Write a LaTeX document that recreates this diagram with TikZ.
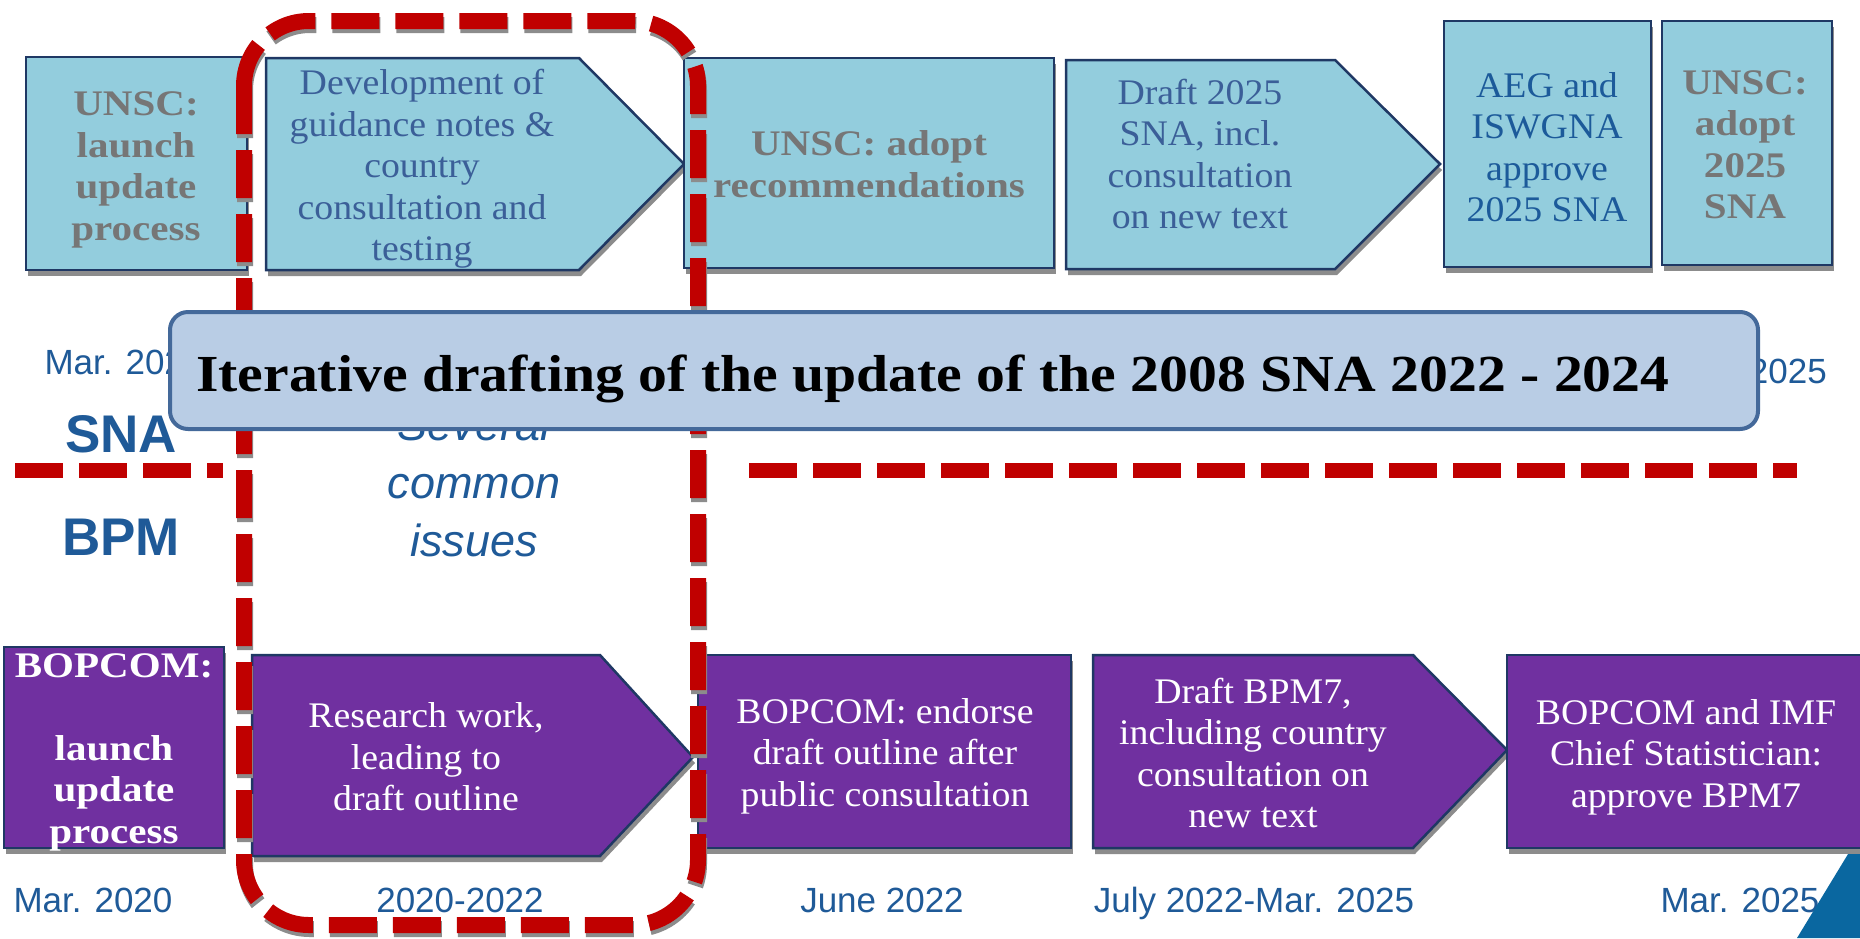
\documentclass[tikz,border=0pt]{standalone}
\usepackage{fontspec}
\setmainfont{Liberation Serif}
\newfontfamily\arialf{Liberation Sans}
\newfontfamily\serifreg{Liberation Serif}[FakeStretch=1.05]
\newfontfamily\serifbold{Liberation Serif}[FakeStretch=1.14]
\newfontfamily\titlef{Liberation Serif}[FakeStretch=1.11]
\usetikzlibrary{shadows}
\definecolor{boxblue}{HTML}{93CDDD}
\definecolor{navy}{HTML}{1F3864}
\definecolor{purp}{HTML}{7030A0}
\definecolor{grayt}{HTML}{767676}
\definecolor{steelt}{HTML}{3B5F98}
\definecolor{bluet}{HTML}{1C5A9A}
\definecolor{labelblue}{HTML}{1F5A98}
\definecolor{dred}{HTML}{C00000}
\definecolor{bannerfill}{HTML}{B9CDE5}
\definecolor{bannerline}{HTML}{44699A}
\definecolor{tealc}{HTML}{0A67A0}
\tikzset{
  shad/.style={drop shadow={shadow xshift=2pt, shadow yshift=-6pt, fill=black!45, opacity=1}},
  sbox/.style={draw=navy, line width=2.5pt, fill=boxblue, shad},
  pbox/.style={draw=navy, line width=2.5pt, fill=purp, shad},
  txtreg/.style={align=center, inner sep=0pt, text=steelt, font=\serifreg\fontsize{36}{41.5}\selectfont},
  txtbold/.style={align=center, inner sep=0pt, text=grayt, font=\serifbold\bfseries\fontsize{36}{41.5}\selectfont},
  datel/.style={anchor=base, inner sep=0pt, text=labelblue, font=\arialf\fontsize{35}{42}\selectfont},
  biglab/.style={anchor=base, inner sep=0pt, text=labelblue, font=\arialf\bfseries\fontsize{53}{60}\selectfont},
  redrect/.style={line width=16pt, dash pattern=on 48pt off 16pt, rounded corners=65pt},
  redline/.style={dred, line width=15pt, dash pattern=on 48pt off 16pt}
}
\begin{document}
\begin{tikzpicture}[x=1pt,y=-1pt]
\useasboundingbox (0,0) rectangle (1860,938);
\clip (0,0) rectangle (1860,938);
\fill[white] (0,0) rectangle (1860,938);

% labels
\node[datel] (d1) at (124,374) {Mar. 2020};
\node[datel, anchor=base east] (d2) at (1827,383) {Mar. 2025};
\node[datel] (d3) at (93,912) {Mar. 2020};
\node[datel] (d4) at (460,912) {2020-2022};
\node[datel] (d5) at (882,912) {June 2022};
\node[datel] (d6) at (1254,912) {July 2022-Mar. 2025};
\node[datel] (d7) at (1740,912) {Mar. 2025};
\node[biglab] (sna) at (121,452) {SNA};
\node[biglab] (bpm) at (121,555) {BPM};
\node[align=center, inner sep=0pt, text=labelblue, font=\arialf\itshape\fontsize{45}{58}\selectfont] (common) at (474,482) {Several\\common\\issues};

% top row (SNA)
\path[sbox] (26,57) rectangle (247,270);
\path[sbox] (266,58) -- (579,58) -- (684,164) -- (579,270) -- (266,270) -- cycle;
\path[sbox] (684,58) rectangle (1054,268);
\path[sbox] (1066,60) -- (1335,60) -- (1440,164) -- (1335,269) -- (1066,269) -- cycle;
\path[sbox] (1444,21) rectangle (1651,267);
\path[sbox] (1662,21) rectangle (1832,265);

\node[txtbold] (t1) at (136,170) {UNSC:\\launch\\update\\process};
\node[txtreg] (t2) at (422,169) {Development of\\guidance notes \&\\country\\consultation and\\testing};
\node[txtbold] (t3) at (869,164) {UNSC: adopt\\recommendations};
\node[txtreg] (t4) at (1200,154) {Draft 2025\\SNA, incl.\\consultation\\on new text};
\node[txtreg, text=bluet] (t5) at (1547,147) {AEG and\\ISWGNA\\approve\\2025 SNA};
\node[txtbold] (t6) at (1745,145) {UNSC:\\adopt\\2025\\SNA};

% bottom row (BPM)
\fill[tealc] (1797,938) -- (1859,836) -- (1860,836) -- (1860,938) -- cycle;
\path[pbox] (4,647) rectangle (224,848);
\path[pbox] (252,655) -- (600,655) -- (693,757) -- (600,856) -- (252,856) -- cycle;
\path[pbox] (698,655) rectangle (1071,848);
\path[pbox] (1093,655) -- (1413,655) -- (1507,750) -- (1413,848) -- (1093,848) -- cycle;
\path[pbox] (1507,655) rectangle (1880,848);

\node[txtbold, text=white] (b1) at (114,752) {BOPCOM:\\[41.5pt]launch\\update\\process};
\node[txtreg, text=white] (b2) at (426,757) {Research work,\\leading to\\draft outline};
\node[txtreg, text=white] (b3) at (885,756) {BOPCOM: endorse\\draft outline after\\public consultation};
\node[txtreg, text=white] (b4) at (1253,753) {Draft BPM7,\\including country\\consultation on\\new text};
\node[txtreg, text=white] (b5) at (1686,757) {BOPCOM and IMF\\Chief Statistician:\\approve BPM7};

% dashed lines
\draw[redline] (15,470) -- (223,470);
\draw[redline] (749,470) -- (1797,470);
\draw[redrect, black!45] (245,25) rectangle (699,929);
\draw[redrect, dred] (244,21) rectangle (698,925);

% banner
\path[fill=bannerfill, draw=bannerline, line width=4pt, rounded corners=18pt] (170,312) rectangle (1758,429);
\node[anchor=base west, inner sep=0pt, font=\titlef\bfseries\fontsize{52}{60}\selectfont] (title) at (196,391) {Iterative drafting of the update of the 2008 SNA 2022 - 2024};
\end{tikzpicture}
\end{document}
